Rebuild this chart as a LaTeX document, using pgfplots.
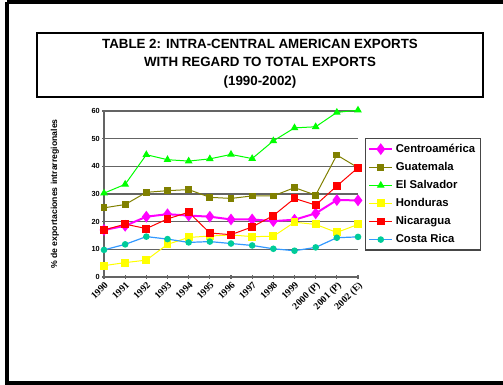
\documentclass[border=0pt]{standalone}
\usepackage{pgfplots}
\pgfplotsset{compat=1.18}
\usepackage{pgfplotstable}
\usepackage{fontspec}
\setmainfont{Liberation Sans}
\newfontfamily\tnr{Liberation Serif}
\definecolor{caMag}{RGB}{255,0,255}
\definecolor{gtOl}{RGB}{128,128,0}
\definecolor{svGr}{RGB}{0,255,0}
\definecolor{hnYe}{RGB}{255,255,0}
\definecolor{niRe}{RGB}{255,0,0}
\definecolor{crBl}{RGB}{51,153,255}
\definecolor{crTe}{RGB}{0,204,153}
\definecolor{gridc}{RGB}{100,100,100}
\pgfplotstableread{
x CA GT SV HN NI CR
0 17.0 25.0 30.3 4.1 17.0 9.8
1 18.5 26.2 33.5 5.2 19.1 11.8
2 21.8 30.6 44.2 6.1 17.5 14.6
3 22.7 31.2 42.4 11.8 21.0 13.7
4 22.2 31.6 41.9 14.3 23.4 12.5
5 21.8 28.8 42.7 14.8 15.9 12.8
6 20.8 28.4 44.3 15.2 15.3 12.1
7 20.8 29.3 42.8 14.6 18.1 11.4
8 20.2 29.3 49.2 14.7 22.2 10.2
9 20.7 32.3 53.9 19.8 28.4 9.5
10 23.0 29.6 54.3 19.0 26.0 10.7
11 27.8 44.1 59.5 16.1 32.9 14.2
12 27.7 39.5 60.3 19.0 39.5 14.5
}\datatable
\begin{document}
\begin{tikzpicture}[x=0.75pt,y=0.75pt]
\useasboundingbox (0,0) rectangle (503,385);
\begin{scope}
\clip (0,0) rectangle (503,385);
\draw[line width=3pt] (7,383) -- (7,2) -- (520,2);
\draw[line width=3pt] (7,383) -- (520,383);
\end{scope}
\draw[line width=1.1pt] (37,352) rectangle (483,288);
\node[align=center, font=\bfseries\fontsize{10}{13.8}\selectfont] at (260,321.5)
  {TABLE 2: INTRA-CENTRAL AMERICAN EXPORTS\\WITH REGARD TO TOTAL EXPORTS\\(1990-2002)};
\begin{axis}[
  at={(78pt,81pt)}, anchor=south west,
  scale only axis, width=190.5pt, height=124.5pt,
  xmin=0, xmax=12, ymin=0, ymax=60,
  clip=false,
  axis lines*=left,
  axis line style={gridc, line width=1pt},
  xtick={0,...,12},
  xticklabels={1990,1991,1992,1993,1994,1995,1996,1997,1998,1999,2000 (P),2001 (P),2002 (E)},
  xticklabel style={font=\tnr\bfseries\fontsize{7.3}{8}\selectfont, rotate=45, anchor=north east, inner sep=1pt},
  ytick={0,10,...,60},
  /pgf/number format/assume math mode=true,
  yticklabel style={font=\bfseries\fontsize{5.5}{6}\selectfont, inner sep=1.5pt},
  tick align=center, major tick length=3pt,
  tick style={gridc, line width=0.8pt},
  ymajorgrids, grid style={gridc, line width=1pt},
  ylabel={\% de exportaciones intrarregionales},
  ylabel style={font=\bfseries\fontsize{6.5}{7}\selectfont, at={(axis description cs:-0.193,0.5)}, anchor=center},
  legend style={at={(axis description cs:1.028,0.837)}, anchor=north west,
    draw={rgb,255:red,70;green,70;blue,70}, line width=0.9pt,
    font=\bfseries\fontsize{8.5}{10}\selectfont, row sep=1.9pt, inner xsep=2pt, inner ysep=2pt},
  legend cell align=left,
]
\addplot[caMag, line width=1.5pt, mark=diamond*, mark size=3.2pt, mark options={fill=caMag}] table[x=x,y=CA]{\datatable};
\addlegendentry{Centroamérica}
\addplot[gtOl, line width=0.75pt, mark=square*, mark size=2.2pt, mark options={fill=gtOl}] table[x=x,y=GT]{\datatable};
\addlegendentry{Guatemala}
\addplot[svGr, line width=0.75pt, mark=triangle*, mark size=2.6pt, mark options={fill=svGr}] table[x=x,y=SV]{\datatable};
\addlegendentry{El Salvador}
\addplot[hnYe, line width=0.75pt, mark=square*, mark size=2.6pt, mark options={fill=hnYe}] table[x=x,y=HN]{\datatable};
\addlegendentry{Honduras}
\addplot[niRe, line width=0.75pt, mark=square*, mark size=2.6pt, mark options={fill=niRe}] table[x=x,y=NI]{\datatable};
\addlegendentry{Nicaragua}
\addplot[crBl, line width=0.9pt, mark=*, mark size=2pt, mark options={fill=crTe, draw=crTe}] table[x=x,y=CR]{\datatable};
\addlegendentry{Costa Rica}
\end{axis}
\end{tikzpicture}
\end{document}
